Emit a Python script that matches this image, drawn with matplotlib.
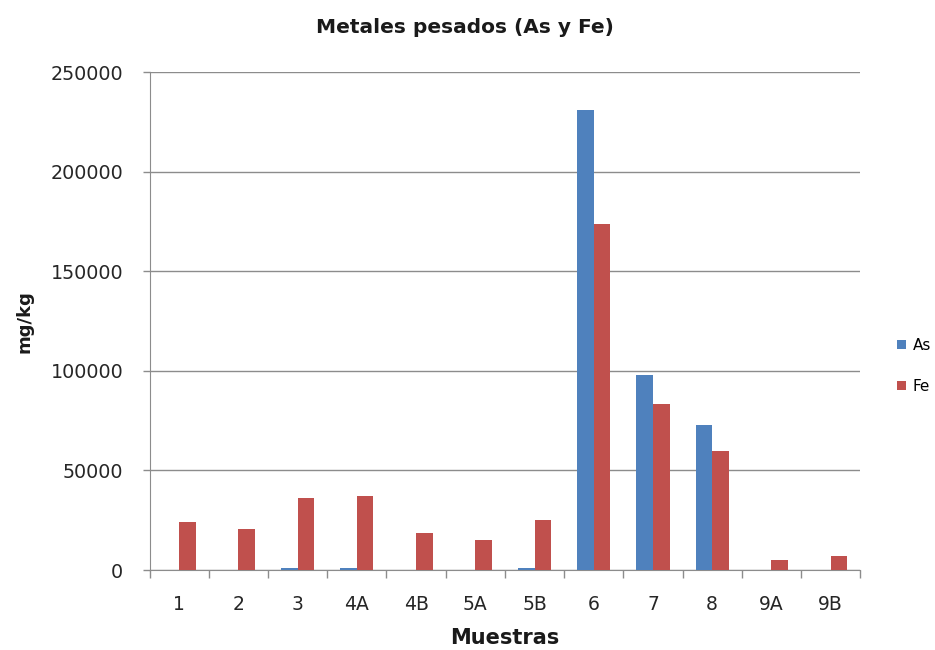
import matplotlib
matplotlib.use("Agg")
import matplotlib.pyplot as plt
import numpy as np

plt.rcParams['font.family'] = ['DejaVu Sans']

muestras = ["1", "2", "3", "4A", "4B", "5A", "5B", "6", "7", "8", "9A", "9B"]
arsenico = [0, 0, 1000, 1000, 0, 0, 1000, 231000, 98000, 72800, 0, 0]
hierro = [24100, 20400, 36100, 37100, 18600, 14900, 25100, 174000, 83200, 59900, 5000, 7000]
yticks = [0, 50000, 100000, 150000, 200000, 250000]

fig = plt.figure(figsize=(9.35, 6.5), dpi=100)
ax = fig.add_axes([0.160, 0.123, 0.760, 0.766])

x = np.arange(len(muestras))
w = 0.28
ax.bar(x - w / 2, arsenico, width=w, color="#4F81BD", label="As", zorder=3)
ax.bar(x + w / 2, hierro, width=w, color="#C0504D", label="Fe", zorder=3)

grey = "#8c8c8c"
ax.set_xlim(-0.5, len(muestras) - 0.5)
ax.set_ylim(0, 250000)
ax.set_yticks(yticks)
ax.set_yticklabels([str(v) for v in yticks], fontsize=13.8, color="#262626")
ax.yaxis.grid(True, color=grey, linewidth=1.0, zorder=0)
ax.tick_params(axis="y", length=5, color=grey, width=1.0, pad=14)

ax.set_xticks(x)
ax.set_xticklabels(muestras, fontsize=13.5, color="#262626")
ax.set_xticks(np.arange(-0.5, len(muestras), 1.0), minor=True)
ax.tick_params(axis="x", which="major", length=0, pad=18)
ax.tick_params(axis="x", which="minor", length=6, color=grey, width=1.0)

for side in ["top", "right"]:
    ax.spines[side].set_visible(False)
ax.spines["left"].set_color(grey)
ax.spines["bottom"].set_color(grey)

fig.text(0.497, 0.958, "Metales pesados (As y Fe)", fontsize=14.5,
         fontweight="bold", ha="center", va="center", color="#1a1a1a")
ax.set_xlabel("Muestras", fontsize=15, fontweight="bold", labelpad=10,
              color="#1a1a1a")
fig.text(0.026, 0.506, "mg/kg", fontsize=13, fontweight="bold", rotation=90,
         ha="center", va="center", color="#1a1a1a")

ax.legend(loc="center left", bbox_to_anchor=(1.032, 0.41), frameon=False,
          fontsize=11, handlelength=0.6, handleheight=0.6, labelspacing=1.7,
          handletextpad=0.45, borderaxespad=0.5, borderpad=0.4)

fig.savefig("out.png", dpi=100, facecolor="white")
